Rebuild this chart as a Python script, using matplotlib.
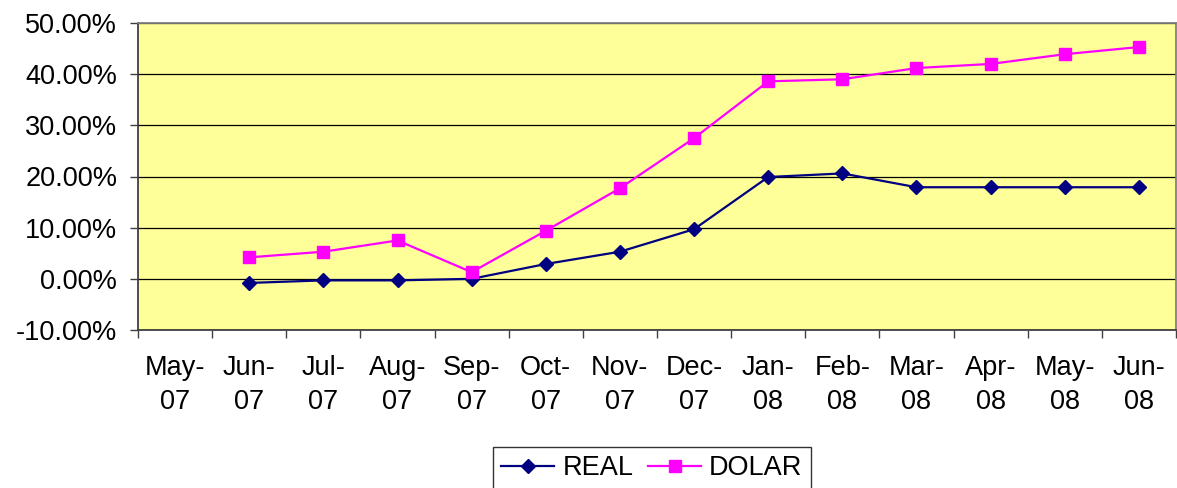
import matplotlib
matplotlib.use("Agg")
import matplotlib.pyplot as plt
from matplotlib.ticker import FuncFormatter, FixedLocator
import numpy as np

plt.rcParams['font.family'] = ['Liberation Sans', 'DejaVu Sans']

months = ["May-\n07", "Jun-\n07", "Jul-\n07", "Aug-\n07", "Sep-\n07", "Oct-\n07", "Nov-\n07",
          "Dec-\n07", "Jan-\n08", "Feb-\n08", "Mar-\n08", "Apr-\n08", "May-\n08", "Jun-\n08"]
real = [np.nan, -0.8, -0.3, -0.3, 0.0, 2.9, 5.3, 9.7, 19.9, 20.6, 17.9, 17.9, 17.9, 17.9]
dolar = [np.nan, 4.2, 5.3, 7.5, 1.3, 9.4, 17.7, 27.5, 38.6, 39.0, 41.2, 42.0, 43.9, 45.3]
y_ticks = [-10, 0, 10, 20, 30, 40, 50]

fs = 19.5

fig = plt.figure(figsize=(11.77, 4.88), dpi=100)
ax = fig.add_axes([138/1177, 1 - 330/488, (1176 - 138)/1177, (330 - 23)/488])
ax.set_facecolor("#FFFF99")

x = np.arange(len(months))
ax.plot(x, real, color="#000080", lw=1.6, marker="D", markersize=7.5, label="REAL", zorder=3)
ax.plot(x, dolar, color="#FF00FF", lw=1.6, marker="s", markersize=8, label="DOLAR", zorder=3)

ax.set_xlim(-0.5, len(months) - 0.5)
ax.set_ylim(-10, 50)
ax.set_yticks(y_ticks)
ax.yaxis.set_major_formatter(FuncFormatter(lambda v, p: f"{v:.2f}%"))
ax.yaxis.grid(True, color="black", lw=0.9)
ax.set_axisbelow(True)

ax.xaxis.set_major_locator(FixedLocator(np.arange(len(months) + 1) - 0.5))
ax.xaxis.set_minor_locator(FixedLocator(x))
ax.set_xticklabels([], minor=False)
ax.set_xticklabels(months, minor=True)
ax.tick_params(axis="x", which="major", length=6, width=1, color="#404040", direction="out")
ax.tick_params(axis="x", which="minor", length=0, pad=18, labelsize=fs)
ax.tick_params(axis="y", length=6, width=1, color="#404040", pad=9, labelsize=fs)
plt.setp(ax.get_xticklabels(minor=True), linespacing=1.4, ha="center")

ax.spines["left"].set_color("#404040")
ax.spines["bottom"].set_color("#404040")
ax.spines["top"].set_color("#808080")
ax.spines["right"].set_color("#808080")
for s in ax.spines.values():
    s.set_linewidth(1.3)

leg = fig.legend(loc="upper center", bbox_to_anchor=(652/1177, 1 - 447/488), ncol=2,
                 fontsize=fs, frameon=True, fancybox=False, edgecolor="black",
                 handlelength=1.95, handletextpad=0.3, columnspacing=0.55, borderpad=0.3,
                 borderaxespad=0)
leg.get_frame().set_linewidth(1.0)

fig.savefig("out.png", dpi=100)
